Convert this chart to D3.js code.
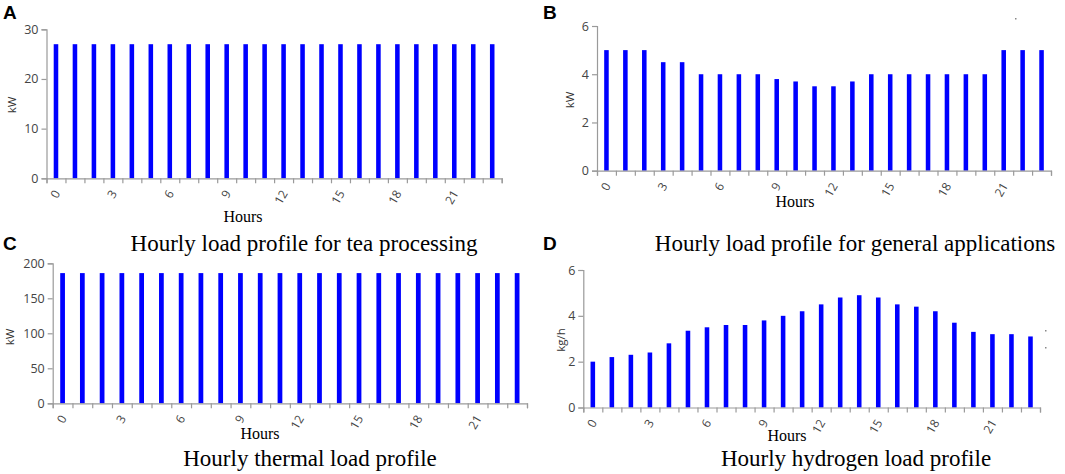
<!DOCTYPE html>
<html>
<head>
<meta charset="utf-8">
<script src="https://cdn.jsdelivr.net/npm/d3@7/dist/d3.min.js"></script>
<style>
  body { margin: 0; background: #fff; }
  svg { display: block; }
</style>
</head>
<body>
<svg id="chart" width="1065" height="474"></svg>
<script>
// hours of the day
const hours = [0, 1, 2, 3, 4, 5, 6, 7, 8, 9, 10, 11, 12, 13, 14, 15, 16, 17, 18, 19, 20, 21, 22, 23];
const hourLabels = [0, 3, 6, 9, 12, 15, 18, 21];

// load values
const teaLoad = [27, 27, 27, 27, 27, 27, 27, 27, 27, 27, 27, 27, 27, 27, 27, 27, 27, 27, 27, 27, 27, 27, 27, 27];
const generalLoad = [5, 5, 5, 4.5, 4.5, 4, 4, 4, 4, 3.8, 3.7, 3.5, 3.5, 3.7, 4, 4, 4, 4, 4, 4, 4, 5, 5, 5];
const thermalLoad = [186, 186, 186, 186, 186, 186, 186, 186, 186, 186, 186, 186, 186, 186, 186, 186, 186, 186, 186, 186, 186, 186, 186, 186];
const hydrogenLoad = [2.0, 2.2, 2.3, 2.4, 2.8, 3.35, 3.5, 3.6, 3.6, 3.8, 4.0, 4.2, 4.5, 4.8, 4.9, 4.8, 4.5, 4.4, 4.2, 3.7, 3.3, 3.2, 3.2, 3.1];

const ticksA = [0, 10, 20, 30];
const ticksB = [0, 2, 4, 6];
const ticksC = [0, 50, 100, 150, 200];
const ticksD = [0, 2, 4, 6];

const svg = d3.select('#chart');

const panels = [
  { letter: 'A', values: teaLoad, ticks: ticksA, unit: 'kW', title: 'Hourly load profile for tea processing',
    x0: 46.5, x1: 501.7, y0: 178.3, y1: 29.3, lx: 3, ly: 19, tx: 304, ty: 251, hx: 243, hy: 222, ux: 12, uy: 105 },
  { letter: 'B', values: generalLoad, ticks: ticksB, unit: 'kW', title: 'Hourly load profile for general applications',
    x0: 597, x1: 1051, y0: 170.7, y1: 26, lx: 543, ly: 19, tx: 855, ty: 251, hx: 795, hy: 207, ux: 570, uy: 100 },
  { letter: 'C', values: thermalLoad, ticks: ticksC, unit: 'kW', title: 'Hourly thermal load profile',
    x0: 52.7, x1: 527, y0: 403.3, y1: 263.3, lx: 3, ly: 250, tx: 310, ty: 466, hx: 260, hy: 439, ux: 10, uy: 337 },
  { letter: 'D', values: hydrogenLoad, ticks: ticksD, unit: 'kg/h', title: 'Hourly hydrogen load profile',
    x0: 583.3, x1: 1040, y0: 407.5, y1: 270, lx: 543, ly: 250, tx: 856, ty: 466, hx: 787, hy: 441, ux: 561, uy: 340, clip: 556 }
];

const drawPanel = (p, k) => {
  const g = svg.append('g');
  const x = d3.scaleBand().domain(hours).range([p.x0, p.x1]).padding(0);
  const xEdge = d3.scaleLinear().domain([0, hours.length]).range([p.x0, p.x1]);
  const y = d3.scaleLinear().domain([0, d3.max(p.ticks)]).range([p.y0, p.y1]);
  const barW = x.bandwidth() * 0.24;

  g.selectAll('rect')
    .data(p.values)
    .enter()
    .append('rect')
    .attr('x', (d, i) => x(hours[i]) + x.bandwidth() / 2 - barW / 2)
    .attr('y', d => y(d))
    .attr('width', barW)
    .attr('height', d => y(0) - y(d))
    .attr('fill', '#0000ff');

  // y axis
  g.append('g')
    .attr('transform', 'translate(' + p.x0 + ',0)')
    .call(d3.axisLeft(y).tickValues(p.ticks).tickFormat(d3.format('d'))
      .tickSize(5).tickSizeOuter(5).tickPadding(3));

  // x axis: ticks on the band edges, labels every third hour
  g.append('g')
    .attr('transform', 'translate(0,' + p.y0 + ')')
    .call(d3.axisBottom(xEdge).tickValues(d3.range(hours.length + 1)).tickSize(5).tickSizeOuter(5).tickFormat(''));

  g.selectAll('.domain, .tick line').attr('stroke', '#9a9a9a').attr('stroke-width', 1.2);
  g.selectAll('.tick text')
    .attr('fill', '#444')
    .style('font-family', '"Open Sans", sans-serif')
    .style('font-size', '12.5px');

  g.selectAll('text.xl')
    .data(hourLabels)
    .enter()
    .append('text')
    .attr('class', 'xl')
    .attr('transform', d => 'translate(' + (x(d) + x.bandwidth() / 2 + 1) + ',' + (p.y0 + 13) + ') rotate(-60)')
    .attr('text-anchor', 'end')
    .attr('dy', '0.35em')
    .attr('fill', '#444')
    .style('font-family', '"Open Sans", sans-serif')
    .style('font-size', '12px')
    .text(d => d);

  // unit label, the hydrogen one is cut off at its left side
  let unitParent = g;
  if (p.clip) {
    svg.append('clipPath').attr('id', 'uclip' + k)
      .append('rect').attr('x', p.clip).attr('y', 0).attr('width', 40).attr('height', 474);
    unitParent = g.append('g').attr('clip-path', 'url(#uclip' + k + ')');
  }
  unitParent.append('text')
    .attr('transform', 'translate(' + p.ux + ',' + p.uy + ') rotate(-90)')
    .attr('text-anchor', 'middle')
    .attr('dy', '0.35em')
    .attr('fill', '#333')
    .style('font-family', '"Open Sans", sans-serif')
    .style('font-size', '11.5px')
    .text(p.unit);

  g.append('text')
    .attr('x', p.hx).attr('y', p.hy)
    .attr('text-anchor', 'middle')
    .style('font-family', '"Liberation Serif", "Times New Roman", serif')
    .style('font-size', '16px')
    .text('Hours');

  g.append('text')
    .attr('x', p.tx).attr('y', p.ty)
    .attr('text-anchor', 'middle')
    .style('font-family', '"Liberation Serif", "Times New Roman", serif')
    .style('font-size', '23px')
    .text(p.title);

  g.append('text')
    .attr('x', p.lx).attr('y', p.ly)
    .style('font-family', '"Liberation Sans", Arial, sans-serif')
    .style('font-weight', 'bold')
    .style('font-size', '19px')
    .text(p.letter);
};

panels.forEach(drawPanel);

// small specks left over in the scanned figure
svg.selectAll('rect.speck')
  .data([[1015, 18], [1045, 330], [1045, 347]])
  .enter()
  .append('rect')
  .attr('class', 'speck')
  .attr('x', d => d[0]).attr('y', d => d[1])
  .attr('width', 1.5).attr('height', 1.5)
  .attr('fill', '#888');
</script>
</body>
</html>
